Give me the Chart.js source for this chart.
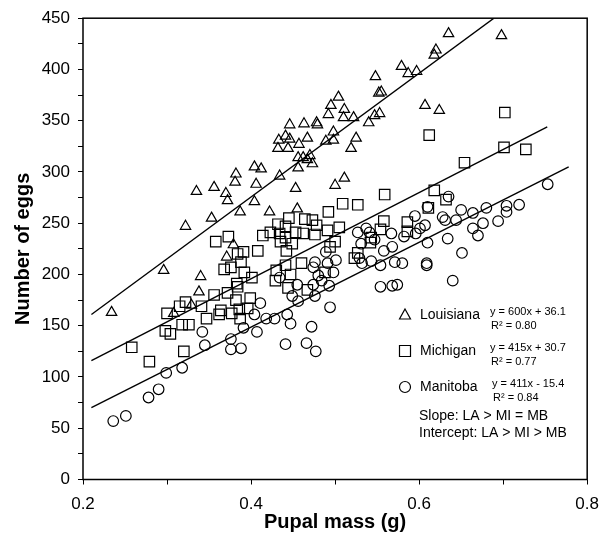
<!DOCTYPE html>
<html>
<head>
<meta charset="utf-8">
<script src="https://cdn.jsdelivr.net/npm/chart.js@4"></script>
<style>
  html, body { margin: 0; padding: 0; background: #fff; }
  #wrap { width: 609px; height: 547px; }
</style>
</head>
<body>
<div id="wrap"><canvas id="eggChart" width="609" height="547"></canvas></div>
<script>
// series names and fitted equations as printed on the chart
const seriesNames = ['Louisiana', 'Michigan', 'Manitoba'];
const equations = ['y = 600x + 36.1', 'y = 415x + 30.7', 'y = 411x - 15.4'];
const rSquared = ['R\u00b2 = 0.80', 'R\u00b2 = 0.77', 'R\u00b2 = 0.84'];
const notes = ['Slope: LA > MI = MB', 'Intercept: LA > MI > MB'];

// Louisiana (triangles)
const laMass = [0.234, 0.296, 0.322, 0.335, 0.356, 0.370, 0.372, 0.382, 0.381, 0.404, 0.406, 0.404, 0.387, 0.353,
  0.340, 0.338, 0.329, 0.308, 0.379, 0.371, 0.412, 0.422, 0.455, 0.453, 0.434, 0.432, 0.433, 0.441, 0.444, 0.446,
  0.457, 0.446, 0.463, 0.467, 0.478, 0.479, 0.456, 0.456, 0.462, 0.470, 0.473, 0.467, 0.489, 0.498, 0.498, 0.492,
  0.495, 0.504, 0.511, 0.510, 0.522, 0.525, 0.519, 0.511, 0.500, 0.540, 0.547, 0.553, 0.552, 0.555, 0.548, 0.579,
  0.587, 0.597, 0.635, 0.698, 0.620, 0.618, 0.607, 0.624];
const laEggs = [163, 204, 247, 281, 285, 279, 272, 298, 290, 305, 288, 271, 261, 255,
  198, 183, 170, 162, 229, 217, 303, 261, 264, 284, 296, 323, 331, 335, 323, 332,
  327, 346, 347, 333, 348, 346, 314, 304, 314, 316, 308, 312, 330, 339, 331, 356,
  365, 373, 361, 353, 353, 333, 323, 294, 287, 348, 355, 357, 377, 378, 393, 403,
  396, 398, 435, 433, 419, 414, 365, 360];

// Michigan (squares)
const miMass = [0.358, 0.373, 0.384, 0.391, 0.388, 0.368, 0.376, 0.392, 0.401, 0.383, 0.384, 0.356, 0.372, 0.382,
  0.399, 0.396, 0.386, 0.377, 0.364, 0.362, 0.387, 0.347, 0.341, 0.322, 0.315, 0.300, 0.318, 0.326, 0.298, 0.304,
  0.258, 0.279, 0.320, 0.408, 0.492, 0.509, 0.527, 0.445, 0.464, 0.473, 0.432, 0.441, 0.423, 0.414, 0.434, 0.453,
  0.462, 0.478, 0.476, 0.491, 0.505, 0.441, 0.435, 0.449, 0.500, 0.494, 0.442, 0.460, 0.441, 0.430, 0.447, 0.429,
  0.488, 0.444, 0.467, 0.558, 0.586, 0.554, 0.543, 0.542, 0.527, 0.523, 0.586, 0.559, 0.702, 0.612, 0.701, 0.727,
  0.654, 0.618, 0.632, 0.611];
const miEggs = [232, 237, 220, 222, 212, 205, 207, 202, 197, 191, 188, 180, 182, 175,
  177, 167, 166, 162, 165, 161, 157, 157, 169, 173, 169, 162, 151, 151, 145, 142,
  129, 115, 125, 223, 261, 269, 268, 255, 254, 253, 249, 247, 241, 238, 240, 241,
  240, 248, 239, 243, 246, 236, 232, 230, 232, 227, 223, 211, 209, 204, 200, 194,
  202, 187, 185, 252, 251, 244, 236, 231, 221, 216, 242, 278, 358, 336, 324, 322,
  309, 282, 273, 265];

// Manitoba (circles)
const mbMass = [0.236, 0.251, 0.278, 0.290, 0.299, 0.318, 0.342, 0.345, 0.376, 0.376, 0.388, 0.391, 0.595, 0.527,
  0.537, 0.541, 0.531, 0.547, 0.567, 0.582, 0.558, 0.568, 0.489, 0.491, 0.501, 0.476, 0.474, 0.529, 0.532, 0.543,
  0.554, 0.571, 0.580, 0.498, 0.480, 0.484, 0.474, 0.493, 0.455, 0.449, 0.456, 0.476, 0.434, 0.411, 0.404, 0.418,
  0.428, 0.443, 0.447, 0.407, 0.472, 0.494, 0.441, 0.466, 0.477, 0.554, 0.568, 0.753, 0.719, 0.704, 0.704, 0.694,
  0.680, 0.676, 0.664, 0.664, 0.670, 0.650, 0.644, 0.635, 0.628, 0.631, 0.634, 0.651, 0.640, 0.610, 0.609, 0.609,
  0.610, 0.607, 0.601, 0.596, 0.574];
const mbEggs = [57, 62, 80, 88, 104, 109, 144, 131, 137, 127, 128, 148, 257, 241,
  245, 241, 230, 234, 240, 237, 223, 227, 222, 211, 214, 212, 207, 216, 211, 213,
  209, 212, 211, 202, 199, 194, 190, 189, 190, 179, 174, 179, 197, 172, 161, 157,
  157, 161, 152, 144, 149, 168, 132, 133, 125, 188, 189, 288, 268, 267, 261, 252,
  265, 250, 260, 245, 238, 263, 253, 276, 256, 253, 235, 221, 194, 231, 211, 209,
  266, 248, 245, 240, 190];

// regression line end points
const laLineMass = [0.21, 0.689];
const laLineEggs = [161, 450];
const miLineMass = [0.21, 0.7525];
const miLineEggs = [116, 344];
const mbLineMass = [0.21, 0.778];
const mbLineEggs = [70, 305];

const xTicks = [0.2, 0.4, 0.6, 0.8];

function toPoints(xs, ys) {
  return xs.map((x, i) => ({ x: x, y: ys[i] }));
}

function scatterSet(label, xs, ys, style, radius) {
  return {
    type: 'scatter',
    label: label,
    data: toPoints(xs, ys),
    pointStyle: style,
    pointRadius: radius,
    pointBorderWidth: 1.2,
    pointBorderColor: '#000',
    pointBackgroundColor: 'rgba(0,0,0,0)'
  };
}

function lineSet(label, xs, ys) {
  return {
    type: 'line',
    label: label,
    data: toPoints(xs, ys),
    borderColor: '#000',
    borderWidth: 1.4,
    pointRadius: 0,
    fill: false
  };
}

const FONT = '"Liberation Sans", Arial, Helvetica, sans-serif';

// frame round the plot area
const framePlugin = {
  id: 'frame',
  afterDraw(chart) {
    const { ctx, chartArea: a } = chart;
    ctx.save();
    ctx.strokeStyle = '#000';
    ctx.lineWidth = 1.5;
    ctx.strokeRect(a.left, a.top, a.right - a.left, a.bottom - a.top);
    ctx.restore();
  }
};

// the key with the equations, lower right inside the plot
const keyPlugin = {
  id: 'key',
  afterDraw(chart) {
    const ctx = chart.ctx;
    const rowY = [315, 351, 387];
    ctx.save();
    ctx.strokeStyle = '#000';
    ctx.fillStyle = '#000';
    ctx.lineWidth = 1.2;
    ctx.textBaseline = 'middle';
    rowY.forEach((y, i) => {
      const mx = 405;
      ctx.beginPath();
      if (i === 0) {
        ctx.moveTo(mx, y - 6);
        ctx.lineTo(mx + 5.5, y + 4);
        ctx.lineTo(mx - 5.5, y + 4);
        ctx.closePath();
      } else if (i === 1) {
        ctx.rect(mx - 5.5, y - 5.5, 11, 11);
      } else {
        ctx.arc(mx, y, 5.5, 0, Math.PI * 2);
      }
      ctx.stroke();
      ctx.font = '14px ' + FONT;
      ctx.fillText(seriesNames[i], 420, y);
      ctx.font = '11px ' + FONT;
      ctx.fillText(equations[i], i === 2 ? 492 : 490, y - 3);
      ctx.fillText(rSquared[i], i === 2 ? 493 : 491, y + 11);
    });
    ctx.font = '14px ' + FONT;
    ctx.fillText(notes[0], 419, 416);
    ctx.fillText(notes[1], 419, 433);
    ctx.restore();
  }
};

Chart.defaults.color = '#000';
Chart.defaults.font.family = FONT;

new Chart(document.getElementById('eggChart'), {
  type: 'scatter',
  data: {
    datasets: [
      scatterSet(seriesNames[0], laMass, laEggs, 'triangle', 6),
      scatterSet(seriesNames[1], miMass, miEggs, 'rect', 7.4),
      scatterSet(seriesNames[2], mbMass, mbEggs, 'circle', 5.3),
      lineSet('LA fit', laLineMass, laLineEggs),
      lineSet('MI fit', miLineMass, miLineEggs),
      lineSet('MB fit', mbLineMass, mbLineEggs)
    ]
  },
  options: {
    responsive: false,
    animation: false,
    events: [],
    layout: { padding: { top: 14, right: 18, bottom: 0, left: 0 } },
    plugins: {
      legend: { display: false },
      tooltip: { enabled: false }
    },
    scales: {
      x: {
        type: 'linear',
        min: 0.2,
        max: 0.8,
        afterFit(scale) { scale.height = 67.5; },
        border: { display: false },
        grid: { drawOnChartArea: false, drawTicks: true, tickLength: 5, color: '#000', lineWidth: 1 },
        ticks: {
          stepSize: 0.1,
          autoSkip: false,
          maxRotation: 0,
          padding: 10,
          font: { size: 17 },
          callback(v) {
            const t = xTicks.find(k => Math.abs(k - v) < 1e-6);
            return t !== undefined ? t.toFixed(1) : '';
          }
        },
        title: {
          display: true,
          text: 'Pupal mass (g)',
          font: { size: 20, weight: 'bold' },
          padding: { top: 0, bottom: 13 }
        }
      },
      y: {
        type: 'linear',
        min: 0,
        max: 450,
        afterFit(scale) { scale.width = 83; },
        border: { display: false },
        grid: { drawOnChartArea: false, drawTicks: true, tickLength: 5, color: '#000', lineWidth: 1 },
        ticks: {
          stepSize: 25,
          autoSkip: false,
          padding: 8,
          font: { size: 17 },
          callback(v) { return v % 50 === 0 ? String(v) : ''; }
        },
        title: {
          display: true,
          text: 'Number of eggs',
          font: { size: 20, weight: 'bold' },
          padding: { top: 11.5, bottom: 0 }
        }
      }
    }
  },
  plugins: [framePlugin, keyPlugin]
});
</script>
</body>
</html>
